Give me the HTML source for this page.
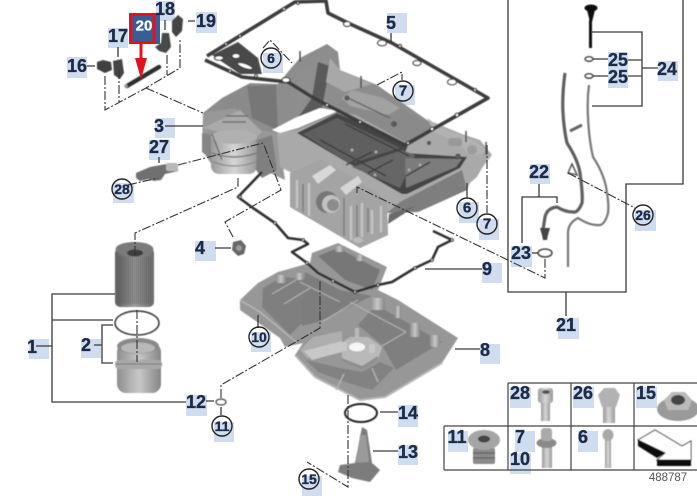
<!DOCTYPE html>
<html><head><meta charset="utf-8"><style>
html,body{margin:0;padding:0;background:#fff;width:697px;height:500px;overflow:hidden}
svg{display:block}
text{font-family:"Liberation Sans",sans-serif;font-weight:bold;font-size:18px;fill:#1b2b48;stroke:#1b2b48;stroke-width:.35;text-anchor:middle;dominant-baseline:central}
.bg rect{fill:#d0ddef}
.l{stroke:#3a3a3a;stroke-width:1.3;fill:none}
.d{stroke:#333;stroke-width:1.1;fill:none;stroke-dasharray:9 2 2 2}
.c{stroke:#222;stroke-width:1.4;fill:none}
.r{fill:#fff;stroke:#3a3a3a;stroke-width:1.2}
</style></head><body>
<svg width="697" height="500" viewBox="0 0 697 500" xmlns="http://www.w3.org/2000/svg">
<defs>
<filter id="b" x="-5%" y="-5%" width="110%" height="110%"><feGaussianBlur stdDeviation="0.5"/></filter>
<linearGradient id="f" x1="0" x2="1" y1="0" y2="0"><stop offset="0" stop-color="#5f5f5f"/><stop offset=".5" stop-color="#9a9a9a"/><stop offset="1" stop-color="#6d6d6d"/></linearGradient>
<linearGradient id="m" x1="0" x2="1" y1="0" y2="0"><stop offset="0" stop-color="#9a9a9a"/><stop offset=".5" stop-color="#d6d6d6"/><stop offset="1" stop-color="#999"/></linearGradient>
<linearGradient id="cy" x1="0" x2="1" y1="0" y2="0"><stop offset="0" stop-color="#8e8e8e"/><stop offset=".5" stop-color="#c8c8c8"/><stop offset="1" stop-color="#858585"/></linearGradient>
<pattern id="rib" width="2" height="4" patternUnits="userSpaceOnUse"><rect width=".8" height="4" fill="#3a3a3a" opacity=".45"/></pattern>
</defs>

<!-- label backgrounds -->
<g class="bg">
<rect x="156" y="1" width="19" height="20"/><rect x="196" y="12" width="21" height="21"/>
<rect x="108" y="28" width="20" height="20"/><rect x="67" y="57" width="20" height="21"/>
<rect x="155" y="118" width="20" height="20"/><rect x="149" y="140" width="21" height="20"/>
<rect x="113" y="183" width="21" height="20"/><rect x="263" y="53" width="20" height="20"/>
<rect x="387" y="13" width="20" height="20"/><rect x="395" y="85" width="20" height="20"/>
<rect x="459" y="202" width="20" height="21"/><rect x="479" y="219" width="20" height="21"/>
<rect x="482" y="263" width="20" height="20"/><rect x="480" y="344" width="20" height="20"/>
<rect x="251" y="332" width="20" height="20"/><rect x="398" y="405" width="20" height="22"/>
<rect x="398" y="445" width="20" height="20"/><rect x="302" y="476" width="20" height="20"/>
<rect x="195" y="241" width="21" height="20"/><rect x="29" y="339" width="20" height="20"/>
<rect x="81" y="339" width="20" height="19"/><rect x="186" y="395" width="21" height="21"/>
<rect x="214" y="422" width="20" height="20"/><rect x="608" y="52" width="20" height="36"/>
<rect x="658" y="61" width="20" height="20"/><rect x="530" y="164" width="20" height="20"/>
<rect x="511" y="246" width="21" height="21"/><rect x="635" y="210" width="21" height="21"/>
<rect x="558" y="318" width="21" height="21"/>
<rect x="510" y="387" width="21" height="21"/><rect x="573" y="387" width="21" height="21"/>
<rect x="636" y="387" width="21" height="21"/><rect x="448" y="431" width="20" height="21"/>
<rect x="515" y="431" width="20" height="21"/><rect x="510" y="453" width="21" height="21"/>
<rect x="578" y="431" width="20" height="21"/>
</g>

<g filter="url(#b)">
<!-- rear tower -->
<polygon points="203,113 222,98 250,83 278,84 292,67 300,58 327,44 338,52 340,70 377,85 427,120 433,124 300,160 262,140 203,128" fill="#8d8d8d"/>
<polygon points="247,86 276,85 278,130 252,118" fill="#777"/>
<polygon points="222,100 247,86 252,118 225,112" fill="#8a8a8a"/>
<polygon points="318,62 330,66 322,108 305,125 296,120 312,98" fill="#5a5a5a"/>
<polygon points="296,72 316,64 312,95 298,105" fill="#8f8f8f"/>
<polygon points="330,58 340,70 372,84 345,92 326,82" fill="#a8a8a8"/>
<!-- left housing -->
<polygon points="203,113 235,108 262,130 277,133 282,160 285,180 268,172 258,170 212,165 202,150" fill="#989898"/>
<polygon points="203,128 240,110 262,132 254,140 212,130" fill="#aaa"/>
<polygon points="202,133 212,135 212,160 202,152" fill="#858585"/>
<rect x="211" y="133" width="46" height="41" rx="8" fill="url(#m)"/>
<ellipse cx="234" cy="137" rx="23" ry="7" fill="#b0b0b0"/>
<path d="M212 153q22 8 45 0" stroke="#777" stroke-width="1.400" fill="none"/>
<path d="M213 162q22 8 42 0" stroke="#888" stroke-width="1.200" fill="none"/>
<path d="M212 134l10 26M222 122h24M226 116h22" stroke="#666" stroke-width="1.200" fill="none"/>
<polygon points="257,140 272,135 277,170 262,178 256,170" fill="#7f7f7f"/>
<!-- main pan silhouette -->
<polygon points="277,133 297,130 337,113 433,122 462,134 480,140 492,155 482,168 477,177 470,183 467,190 418,212 387,213 388,235 360,248 290,207 292,173 280,167" fill="#a9a9a9"/>
<polygon points="387,213 418,212 467,190 462,170 400,202" fill="#7e7e7e"/>
<polygon points="389,214 416,206 388,224" fill="#6a6a6a"/>
<!-- white gap behind rim -->
<polygon points="272,130 295,118 320,108 338,111 298,128 280,133" fill="#fff"/>
<!-- tray -->
<polygon points="297,133 337,113 408,145 405,153 467,157 460,168 407,194 402,194 360,170" fill="#444"/>
<polygon points="303,134 337,118 400,148 350,164" fill="#5e5e5e"/>
<polygon points="352,167 402,150 415,155 400,188" fill="#666"/>
<polygon points="405,158 462,159 456,167 406,188" fill="#7b7b7b"/>
<path d="M320 140l66 36M345 124l64 32M372 152l-26 13M393 160l-25 13M430 162l-24 14" stroke="#3c3c3c" stroke-width="1.400" fill="none"/>
<g fill="#aaa"><circle cx="376" cy="152" r="1.500"/><circle cx="409" cy="170" r="1.500"/><circle cx="375" cy="175" r="1.500"/><circle cx="352" cy="150" r="1.500"/><circle cx="420" cy="165" r="1.500"/></g>
<!-- slab -->
<polygon points="338,105 357,93 387,103 440,127 410,145" fill="#8a8a8a"/>
<polygon points="342,98 352,90 383,98 400,108 388,115 350,106" fill="#a2a2a2"/>
<polygon points="427,118 440,127 473,140 490,152 470,156 460,144 434,132" fill="#b2b2b2"/>
<path d="M348 98l42 20" stroke="#666" stroke-width="1.500"/>
<g fill="#5a5a5a"><circle cx="347" cy="98" r="2.600"/><circle cx="394" cy="124" r="3"/><circle cx="458" cy="156" r="2.600"/><circle cx="429" cy="143" r="2.200"/></g>
<rect x="448" y="138" width="14" height="8" rx="3" fill="#999"/>
<circle cx="472" cy="150" r="5" fill="#9d9d9d"/>
<!-- front block -->
<polygon points="290,173 320,160 353,177 387,200 388,235 360,248 290,207" fill="#a4a4a4"/>
<circle cx="327" cy="202" r="11" fill="#777"/><circle cx="331" cy="204" r="9" fill="#c2c2c2"/><circle cx="333" cy="205" r="6" fill="#8c8c8c"/>
<polygon points="312,176 330,165 336,170 318,184" fill="#d8d8d8"/>
<polygon points="340,188 358,176 362,182 346,195" fill="#d6d6d6"/>
<path d="M297 180v28M309 183v33M351 206v34M362 203v34M372 210v24M381 206v26" stroke="#c4c4c4" stroke-width="2.400" fill="none"/>
<path d="M303 184v28M344 198v38M357 205v36M368 208v24" stroke="#7a7a7a" stroke-width="1.400" fill="none"/>
<ellipse cx="358" cy="240" rx="5" ry="3" fill="#bbb"/>

<!-- upper gasket 5 -->
<path d="M207 56L295 2 326 1 328 13 348 23 392 43 488 98 405 145 327 105 312 97 288 82 242 77 205 60" fill="none" stroke="#3c3c3c" stroke-width="3.600" stroke-linejoin="round"/>
<path d="M212 55L238 42 258 58 262 74 240 74Z" fill="#4a4a4a"/>
<g class="r">
<ellipse cx="219" cy="58" rx="4.500" ry="2.200"/><ellipse cx="236" cy="56" rx="4" ry="2.500"/>
<ellipse cx="245" cy="66" rx="8" ry="2.300" transform="rotate(20 245 66)"/>
<circle cx="226" cy="44" r="1.300"/><circle cx="240" cy="36" r="1.300"/><circle cx="284" cy="9" r="1.500"/><circle cx="298" cy="3" r="1.300"/>
<ellipse cx="347" cy="24" rx="3.500" ry="2.500"/><ellipse cx="382" cy="43" rx="4.500" ry="2.800"/><circle cx="400" cy="46" r="1.500"/><ellipse cx="417" cy="63" rx="4" ry="2.500"/><ellipse cx="452" cy="82" rx="4.500" ry="2.800"/><circle cx="475" cy="90" r="1.500"/>
<circle cx="457" cy="115" r="1.800"/><circle cx="432" cy="129" r="1.800"/><circle cx="408" cy="143" r="1.500"/>
<circle cx="360" cy="122" r="1.500"/><circle cx="327" cy="105" r="1.500"/><ellipse cx="286" cy="80" rx="4" ry="2.500"/><circle cx="256" cy="76" r="1.300"/><circle cx="230" cy="71" r="1.300"/>
</g>
<g stroke="#444" stroke-width="1.400"><path d="M300 51v11M361 76v12M466 131v11M486 142v13"/></g>

<!-- lower pan 8 -->
<polygon points="240,300 258,283 278,272 310,263 312,253 338,243 387,267 378,290 398,300 458,338 442,363 385,397 360,400 315,377 295,355 303,343 285,347 280,338 240,310" fill="#979797"/>
<polygon points="263,288 282,277 305,279 338,296 300,325 290,335 262,307" fill="#7f7f7f"/>
<polygon points="305,272 340,290 372,296 318,322 302,326" fill="#7d7d7d"/>
<polygon points="318,256 338,248 380,270 372,290 345,280" fill="#777"/>
<polygon points="376,305 442,342 396,370 382,345 358,325" fill="#7f7f7f"/>
<polygon points="306,360 340,368 362,372 380,362 394,368 372,390 345,382 318,372" fill="#828282"/>
<path d="M272 294l24-14M284 304l26-16M322 322l36-22M350 302l56 30M406 332l-24 14M300 282l40 20" stroke="#b0b0b0" stroke-width="1.200" fill="none"/>
<polygon points="313,337 342,331 342,352 307,358 300,350" fill="#aeaeae"/>
<polygon points="304,351 342,341 342,352 312,360" fill="#c8c8c8"/>
<polygon points="342,343 350,337 368,337 382,347 378,360 362,370 342,362" fill="#b9b9b9"/>
<polygon points="342,358 362,366 378,356 378,360 362,370 342,362" fill="#8f8f8f"/>
<ellipse cx="357" cy="347" rx="8" ry="4.500" fill="#f6f6f6"/>
<rect x="355" y="328" width="4" height="11" fill="#b9b9b9"/>
<rect x="341" y="342" width="6" height="9" rx="2" fill="#c8c8c8"/><rect x="369" y="344" width="6" height="9" rx="2" fill="#c8c8c8"/>
<path d="M344 374l-8 16M372 368l6 14" stroke="#b4b4b4" stroke-width="1.400" fill="none"/>
<g fill="url(#cy)"><rect x="370" y="298" width="15" height="12" rx="2"/><rect x="410" y="323" width="10" height="14" rx="2"/><rect x="430" y="335" width="10" height="12" rx="2"/><rect x="276" y="275" width="10" height="8" rx="2"/><rect x="295" y="273" width="9" height="7" rx="2"/><rect x="335" y="246" width="9" height="6" rx="2"/><rect x="356" y="255" width="8" height="6" rx="2"/><rect x="395" y="306" width="6" height="12"/></g>
<path d="M240 300l20 12 36 30" stroke="#b6b6b6" stroke-width="1.400" fill="none"/>
<path d="M295 355l20 22 45 23 25-3 57-34" stroke="#b6b6b6" stroke-width="2" fill="none"/>

<!-- lower gasket 9 -->
<path d="M262 172L238 197 253 208 275 223 288 238 303 240 308 244 292 252 307 263 318 273 355 292 378 285 392 282 415 268 432 260 438 247 452 240 433 231" fill="none" stroke="#2f2f2f" stroke-width="2.600" stroke-linejoin="round"/>
<g class="r"><circle cx="240" cy="197" r="1.300"/><circle cx="275" cy="223" r="1.300"/><circle cx="303" cy="240" r="1.300"/><circle cx="307" cy="263" r="1.300"/><circle cx="333" cy="281" r="1.300"/><circle cx="355" cy="292" r="1.300"/><circle cx="378" cy="285" r="1.300"/><circle cx="415" cy="268" r="1.300"/><circle cx="432" cy="260" r="1.300"/><circle cx="452" cy="240" r="1.300"/></g>

<!-- oil filter -->
<rect x="115" y="248" width="39" height="59" rx="5" fill="url(#f)"/>
<rect x="118" y="256" width="33" height="48" fill="url(#rib)"/>
<ellipse cx="134.500" cy="249" rx="19" ry="7" fill="#7a7a7a"/>
<ellipse cx="135" cy="253" rx="8" ry="3.500" fill="#3c3c3c"/>
<ellipse cx="137" cy="323" rx="22" ry="12" fill="none" stroke="#333" stroke-width="1.500"/>
<!-- cap -->
<rect x="117" y="343" width="44" height="50" rx="9" fill="url(#cy)"/>
<rect x="115" y="360" width="47" height="9" rx="4" fill="#a8a8a8"/>
<ellipse cx="138" cy="346" rx="21" ry="8" fill="#8a8a8a"/>
<ellipse cx="138" cy="348" rx="17" ry="5.500" fill="#b8b8b8"/>
<path d="M116 364h46" stroke="#777" stroke-width="1"/>

<!-- sensors top left -->
<path d="M97 62l6-2 8 2 1 8-7 3-8-4z" fill="#3f3f3f"/>
<path d="M113 61l9-2 2 14-4 6-6-4z" fill="#454545"/>
<path d="M155 47l6-4 1-10 7 0 2 14-5 6-7-2z" fill="#4a4a4a"/>
<path d="M172 21l6-6 5 4-1 12-6 6-4-5z" fill="#454545"/>
<path d="M127 86l32-19" stroke="#2e2e2e" stroke-width="4.500" stroke-linecap="round"/>
<circle cx="126" cy="86" r="1.800" fill="#999"/>
<!-- injector 27 -->
<path d="M136 173l14-6 22-4 6 3v5l-13 3-4 6-7 1-5-2-9 2-4-3z" fill="#707070"/>
<rect x="166" y="163" width="12" height="8" rx="2" fill="#b8b8b8"/>
<!-- sensor 4 -->
<path d="M233 242l8-2 5 6-2 8-6 2-6-6z" fill="#666"/><circle cx="239" cy="248" r="3" fill="#999"/>
<!-- dipstick -->
<ellipse cx="591" cy="8" rx="6.500" ry="3.500" fill="#111"/><polygon points="587,10 595,10 592,22 590,22" fill="#111"/>
<rect x="589" y="20" width="3" height="28" fill="#111"/>
<path d="M589 85Q587 100 588 117 589 140 593 157 605 175 607 193 609 205 608 213 605 224 600 225 590 226 578 218 568 223 568 233L568 267" fill="none" stroke="#777" stroke-width="2.200"/>
<path d="M565 73Q562 95 563 113 564 130 567 143 578 160 580 173 583 195 582 203 578 213 573 212 565 212 557 207 547 208 545 217L543 230" fill="none" stroke="#5e5e5e" stroke-width="3.200"/>
<path d="M570 131l12-6" stroke="#666" stroke-width="3"/>
<path d="M568 173l4-9 5 11z" fill="none" stroke="#555" stroke-width="1.500"/>
<path d="M540 228h10l-2 7-1 5h-4l-1-5z" fill="#444"/>
<ellipse cx="589" cy="59" rx="4" ry="2.300" fill="none" stroke="#444" stroke-width="1.400"/>
<ellipse cx="589" cy="76" rx="4" ry="2.300" fill="none" stroke="#444" stroke-width="1.400"/>
<ellipse cx="545" cy="253" rx="7" ry="4" fill="none" stroke="#444" stroke-width="1.500"/>
<ellipse cx="221" cy="402" rx="5" ry="3" fill="none" stroke="#444" stroke-width="1.200"/>
<ellipse cx="361" cy="413" rx="16" ry="9" fill="none" stroke="#222" stroke-width="2"/>
<!-- part 13 -->
<polygon points="362,427 367,430 372,463 380,470 370,482 352,478 338,472 340,465 355,463" fill="#7c7c7c"/>
<polygon points="360,435 366,435 369,462 356,463" fill="#9a9a9a"/>
<!-- table parts -->
<rect x="538" y="388" width="15" height="15" rx="3" fill="url(#m)"/><ellipse cx="546" cy="392" rx="4" ry="2" fill="#555"/><rect x="541" y="403" width="9" height="18" fill="url(#m)"/>
<polygon points="598,395 604,388 615,388 620,395 616,407 602,407" fill="#b2b2b2"/><rect x="603" y="407" width="12" height="16" fill="url(#m)"/>
<ellipse cx="678" cy="409" rx="21" ry="12" fill="#9a9a9a"/><polygon points="664,400 672,392 685,392 692,400 688,410 668,410" fill="#bababa"/><ellipse cx="678" cy="400" rx="7" ry="5" fill="#444"/>
<rect x="473" y="448" width="22" height="16" rx="2" fill="#8a8a8a"/><path d="M473 453h22M473 458h22" stroke="#555"/>
<ellipse cx="484" cy="440" rx="16" ry="10" fill="#a5a5a5"/><ellipse cx="484" cy="439" rx="6" ry="3.500" fill="#444"/>
<rect x="542" y="446" width="10" height="22" fill="url(#m)"/><ellipse cx="546.500" cy="443" rx="10" ry="5" fill="#8a8a8a"/><rect x="541" y="428" width="11" height="13" rx="3" fill="#aaa"/>
<rect x="605" y="438" width="6" height="30" fill="url(#m)"/><ellipse cx="608" cy="435" rx="5.500" ry="6" fill="#aaa"/>
<!-- arrow -->
<polygon points="638,440 655,430 682,446 691,441 691,460 657,460 665,453" fill="#fff" stroke="#333" stroke-width="1"/>
<polygon points="638,440 638,446 657,458 665,453" fill="#111"/>
<rect x="657" y="460" width="34" height="6" fill="#111"/>
</g>

<!-- leader lines -->
<g class="l">
<path d="M508 0V292H626V184H683V0"/>
<path d="M566 292V316"/>
<path d="M592 32H642V106H592M628 60H642M628 76H642M642 68H658M593 59H608M593 76H608"/>
<path d="M539 184V197M522 243V197H557V203M532 253H538"/>
<path d="M115 294H52V402H186M113 320H52M36 346H52M113 325H102V363H113M94 345H102M206 401H214M221 407V415"/>
<path d="M87 66H95M118 47V57M165 20V30M188 21H195M165 126H203M159 157V163M215 248H231"/>
<path d="M425 269H482M455 349H480M380 412H398M373 451H398M391 33V43M467 183V197M258 315V328"/>
</g>
<g class="d">
<path d="M105 76V110L146 88 180 68V38M119 70V102M167 55V75M146 88L203 113"/>
<path d="M178 165L263 143M128 185L158 178"/>
<path d="M263 48L270 40 292 63M377 85L402 72V80"/>
<path d="M487 145V213"/>
<path d="M357 193V187L545 278V257"/>
<path d="M568 173L635 208"/>
<path d="M135 255V233L238 187V178"/>
<path d="M233 237L225 222 281 190 264 145"/>
<path d="M221 398V385L320 328V280"/>
<path d="M348 395V487L307 462"/>
<path d="M137 310V362"/>
</g>

<!-- table -->
<path d="M508 383H697M444 426H697M444 470H697M444 426V470M508 383V470M571 383V470M634 383V470" fill="none" stroke="#444" stroke-width="1.200"/>

<!-- circles -->
<circle class="c" cx="122" cy="189" r="10"/><circle class="c" cx="271" cy="58" r="10"/>
<circle class="c" cx="403" cy="91" r="10"/><circle class="c" cx="467" cy="208" r="10"/>
<circle class="c" cx="487" cy="224" r="10"/><circle class="c" cx="259" cy="337" r="10"/>
<circle class="c" cx="309" cy="479" r="10"/><circle class="c" cx="222" cy="426" r="10"/>
<circle class="c" cx="643" cy="215" r="10"/>

<!-- badge 20 and red arrow -->
<rect x="129" y="13" width="31" height="31" fill="#365f97"/>
<rect x="131" y="14.500" width="23" height="28" fill="none" stroke="#e8101a" stroke-width="3"/>
<text x="144" y="26" style="fill:#fff;stroke:#fff;font-size:15px">20</text>
<path d="M141 44V68" stroke="#e8101a" stroke-width="3"/>
<polygon points="135,58 147,58 141,79" fill="#e8101a"/>

<!-- labels -->
<text x="165" y="9">18</text><text x="206" y="21">19</text><text x="118" y="36">17</text><text x="77" y="66">16</text>
<text x="159" y="126">3</text><text x="159" y="147">27</text>
<text x="122" y="189" style="font-size:14px">28</text><text x="271" y="58" style="font-size:14px">6</text>
<text x="391" y="23">5</text><text x="403" y="91" style="font-size:15px">7</text>
<text x="467" y="208" style="font-size:15px">6</text><text x="487" y="224" style="font-size:15px">7</text>
<text x="487" y="269">9</text><text x="485" y="350">8</text>
<text x="259" y="337" style="font-size:14px">10</text><text x="408" y="413">14</text><text x="408" y="452">13</text>
<text x="309" y="479" style="font-size:14px">15</text><text x="200" y="248">4</text><text x="32" y="347">1</text>
<text x="86" y="345">2</text><text x="196" y="402">12</text><text x="222" y="426" style="font-size:14px">11</text>
<text x="618" y="60">25</text><text x="618" y="77">25</text><text x="667" y="69">24</text>
<text x="539" y="172">22</text><text x="521" y="253">23</text><text x="643" y="215" style="font-size:14px">26</text>
<text x="566" y="325">21</text>
<text x="520" y="393">28</text><text x="583" y="393">26</text><text x="646" y="393">15</text>
<text x="457" y="437">11</text><text x="520" y="437">7</text><text x="520" y="459">10</text><text x="583" y="437">6</text>
<text x="668" y="478" style="font-weight:normal;stroke:none;font-size:11.500px;fill:#555">488787</text>
</svg>
</body></html>
